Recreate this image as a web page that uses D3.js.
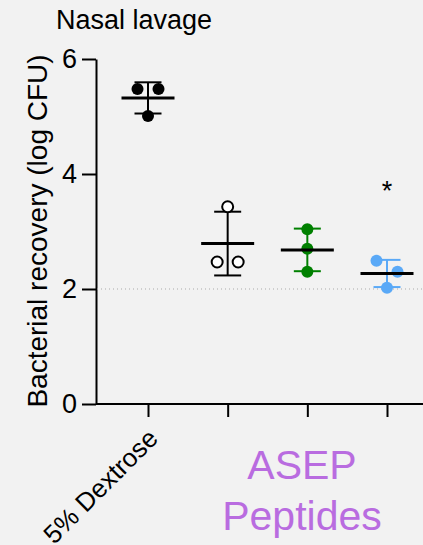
<!DOCTYPE html>
<html>
<head>
<meta charset="utf-8">
<script src="https://cdn.jsdelivr.net/npm/d3@7"></script>
<style>
  html, body { margin: 0; padding: 0; background: #f2f2f2; }
  svg { display: block; font-family: "Liberation Sans", Arial, sans-serif; }
</style>
</head>
<body>
<svg width="423" height="545"></svg>
<script>
// nasal lavage recovery, log CFU, 3 animals per group
const groups = ["5% Dextrose", "ASEP A", "ASEP B", "ASEP C"];
const tickLabels = ["5% Dextrose", "", "", ""];
const dextrose = [5.48, 5.48, 5.01];
const asepA = [3.43, 2.47, 2.47];
const asepB = [3.04, 2.70, 2.30];
const asepC = [2.49, 2.30, 2.02];
const yTicks = [0, 2, 4, 6];
const detectionLimit = 2;
const signif = ["", "", "", "*"];

const series = [dextrose, asepA, asepB, asepC];
const fills = ["#000", "#fff", "#008000", "#5aa9f7"];
const strokes = ["#000", "#000", "#008000", "#5aa9f7"];

var svg = d3.select("svg");

var y = d3.scaleLinear().domain([0, 6]).range([404, 59]);
var x = d3.scalePoint().domain(groups).range([148, 387]);

// axes
var yAxis = d3.axisLeft(y).tickValues(yTicks).tickFormat(d3.format("d"))
    .tickSize(14).tickPadding(5).tickSizeOuter(0);
var gy = svg.append("g").attr("transform", "translate(96,0)").call(yAxis);
gy.select(".domain").attr("stroke-width", 2);
gy.selectAll(".tick line").attr("stroke-width", 2);
gy.selectAll(".tick text").attr("font-size", 27).attr("fill", "#000").attr("font-family", "Liberation Sans, Arial, sans-serif");

var xAxis = d3.axisBottom(x).tickSize(13).tickSizeOuter(0).tickFormat((d, i) => tickLabels[i]);
var gx = svg.append("g").attr("transform", "translate(0,404)").call(xAxis);
gx.select(".domain").attr("d", "M96,0H423").attr("stroke-width", 2);
gx.selectAll(".tick line").attr("stroke-width", 2);
gx.selectAll(".tick text")
    .attr("font-size", 26)
    .attr("fill", "#000")
    .attr("font-family", "Liberation Sans, Arial, sans-serif")
    .attr("text-anchor", "end")
    .attr("dy", null)
    .attr("y", 0)
    .attr("transform", "translate(11,36) rotate(-45)");

// detection limit
svg.append("line")
    .attr("x1", 97).attr("x2", 423)
    .attr("y1", y(detectionLimit)).attr("y2", y(detectionLimit))
    .attr("stroke", "#aaa")
    .attr("stroke-width", 1)
    .attr("stroke-dasharray", "1,3");

var r = 6;

series.forEach(function(vals, gi) {
  var cx = x(groups[gi]);
  var m = d3.mean(vals), sd = d3.deviation(vals);
  var g = svg.append("g");

  // error bar
  g.append("line").attr("x1", cx).attr("x2", cx)
      .attr("y1", y(m + sd)).attr("y2", y(m - sd))
      .attr("stroke", strokes[gi]).attr("stroke-width", 2);
  [m + sd, m - sd].forEach(function(v) {
    g.append("line").attr("x1", cx - 13.5).attr("x2", cx + 13.5)
        .attr("y1", y(v)).attr("y2", y(v))
        .attr("stroke", strokes[gi]).attr("stroke-width", 2);
  });

  // spread points that would overlap
  var sorted = vals.map((v, i) => ({v: v, i: i})).sort((a, b) => b.v - a.v);
  var clusters = [], cur = [];
  sorted.forEach(function(p) {
    if (cur.length && y(p.v) - y(cur[cur.length - 1].v) < 2 * r) cur.push(p);
    else { if (cur.length) clusters.push(cur); cur = [p]; }
  });
  clusters.push(cur);
  var pts = [];
  clusters.forEach(function(c) {
    c.forEach(function(p, k) {
      pts.push({v: p.v, dx: (k - (c.length - 1) / 2) * 21});
    });
  });

  g.selectAll("circle").data(pts).join("circle")
      .attr("cx", d => cx + d.dx)
      .attr("cy", d => y(d.v))
      .attr("r", gi == 1 ? 5.5 : r)
      .attr("fill", fills[gi])
      .attr("stroke", strokes[gi])
      .attr("stroke-width", gi == 1 ? 2 : 0);

  // mean line
  g.append("line").attr("x1", cx - 26.5).attr("x2", cx + 26.5)
      .attr("y1", y(m)).attr("y2", y(m))
      .attr("stroke", "#000").attr("stroke-width", 3);

  if (signif[gi]) {
    svg.append("text").attr("x", cx).attr("y", 200)
        .attr("text-anchor", "middle").attr("font-size", 27)
        .text(signif[gi]);
  }
});

// title
svg.append("text").attr("x", 56).attr("y", 29)
    .attr("font-size", 27).text("Nasal lavage");

// y label
svg.append("text")
    .attr("transform", "translate(47,231) rotate(-90)")
    .attr("text-anchor", "middle")
    .attr("font-size", 28)
    .text("Bacterial recovery (log CFU)");

// group label
var lab = svg.append("text").attr("text-anchor", "middle")
    .attr("font-size", 41).attr("fill", "#b96ce0");
lab.append("tspan").attr("x", 302).attr("y", 479).text("ASEP");
lab.append("tspan").attr("x", 302).attr("y", 530).text("Peptides");
</script>
</body>
</html>
